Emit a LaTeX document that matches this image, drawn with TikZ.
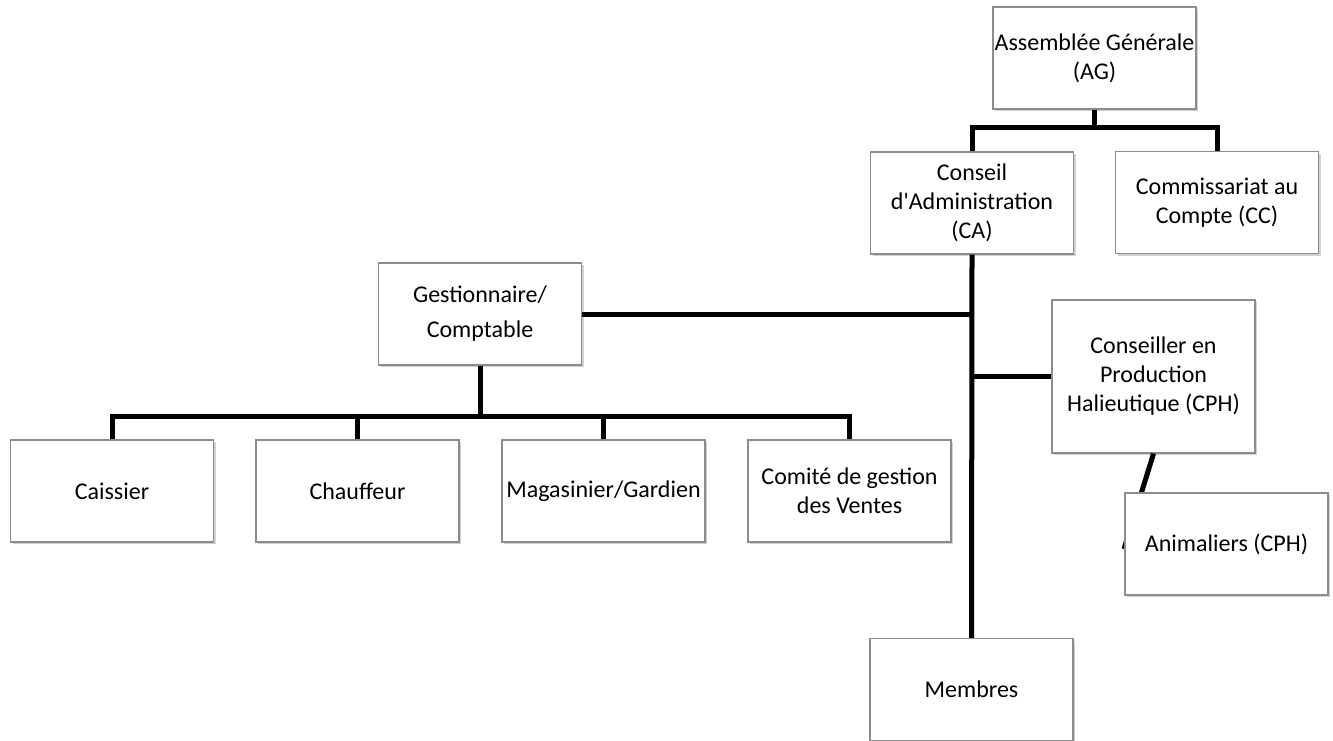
\documentclass[tikz,border=0pt]{standalone}
\usepackage{fontspec}
\newfontfamily\calfont{Carlito}
\usetikzlibrary{shadows}
\begin{document}
\begin{tikzpicture}[x=0.75pt,y=-0.75pt,
  box/.style={draw=black!45,line width=0.8pt,fill=white,inner sep=0pt,
    minimum width=152.25pt,minimum height=76.5pt,align=center,
    font=\calfont\fontsize{18}{21.75}\selectfont,
    drop shadow={shadow xshift=1.6pt,shadow yshift=-1.8pt,opacity=0.3,fill=black!60}},
  tallbox/.style={box,minimum height=114.75pt},
  link/.style={line width=3.75pt,line join=miter,draw=black}]
\useasboundingbox (0,0) rectangle (1333,740);
% nodes
\node[box] (AG) at (1094.5,58) {Assemblée Générale\\(AG)};
\node[box] (CA) at (972,203) {Conseil\\d'Administration\\(CA)};
\node[box] (CC) at (1217,202.5) {Commissariat au\\Compte (CC)};
\node[box] (Gest) at (480,314) {Gestionnaire/\\[4.5pt]Comptable};
\node[tallbox] (CPH) at (1153.5,376.5) {Conseiller en\\Production\\Halieutique (CPH)};
\node[box] (Cai) at (112,491) {Caissier};
\node[box] (Cha) at (357.5,491) {Chauffeur};
\node[box] (Mag) at (603.5,491) {Magasinier/Gardien};
\node[box] (Com) at (849.5,491) {Comité de gestion\\des Ventes};
\coordinate (b1) at (1094.5,127);
\coordinate (b2) at (480,416);
\coordinate (aend) at (1124,549);
% connectors
\draw[link] (AG.south) -- (b1);
\draw[link] (CA.north) |- (b1) -| (CC.north);
\draw[link] (Gest.east) -- (Gest.east -| CA.south);
\draw[link] (CPH.west) -- (CPH.west -| CA.south);
\draw[link] (Gest.south) -- (b2);
\draw[link] (Cai.north) |- (b2) -| (Com.north);
\draw[link] (Cha.north) -- (Cha.north |- b2);
\draw[link] (Mag.north) -- (Mag.north |- b2);
\draw[link] (CPH.south) -- (aend);
% nodes drawn over connectors
\node[box] (Anim) at (1226.5,544) {Animaliers (CPH)};
\node[box] (Mem) at (971.5,689.5) {Membres};
\draw[link] (CA.south) -- (Mem.north);
\end{tikzpicture}
\end{document}
